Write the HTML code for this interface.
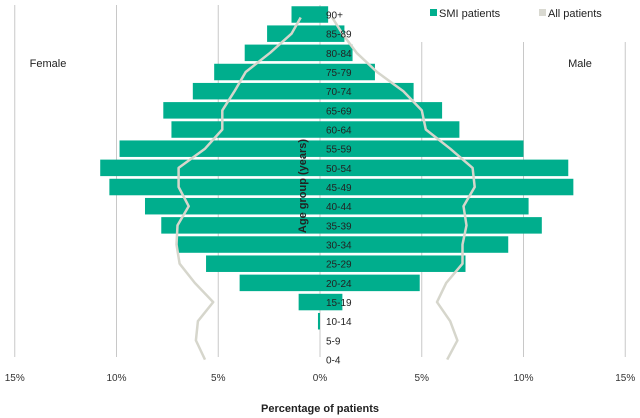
<!DOCTYPE html>
<html><head><meta charset="utf-8"><style>
body{margin:0;background:#fff;}
svg{display:block;font-family:"Liberation Sans",Arial,sans-serif;}
</style></head><body>
<svg id="chart" width="640" height="418">
<g id="grid"></g><g id="bars"></g><g id="lines"></g><g id="labels"></g>
<text x="48" y="67" font-size="11" text-anchor="middle" fill="#222">Female</text>
<text x="580" y="67" font-size="11" text-anchor="middle" fill="#222">Male</text>
<text x="320" y="412" font-size="11" font-weight="bold" text-anchor="middle" fill="#222">Percentage of patients</text>
<text transform="translate(306,186) rotate(-90)" font-size="11" font-weight="bold" text-anchor="middle" fill="#222">Age group (years)</text>
<g>
<rect x="430" y="9" width="7" height="7" fill="#00ae8d"/>
<text x="439" y="17" font-size="11" fill="#222">SMI patients</text>
<rect x="539" y="9" width="7" height="7" fill="#d9d9d1"/>
<text x="548" y="17" font-size="11" fill="#222">All patients</text>
</g>
</svg>
<script>
const categories=["90+","85-89","80-84","75-79","70-74","65-69","60-64","55-59","50-54","45-49","40-44","35-39","30-34","25-29","20-24","15-19","10-14","5-9","0-4"];
const smiFemale=[1.4,2.6,3.7,5.2,6.25,7.7,7.3,9.85,10.8,10.35,8.6,7.8,7.0,5.6,3.95,1.05,0.1,0,0];
const smiMale=[0.4,1.2,1.6,2.7,4.6,6.0,6.85,10.0,12.2,12.45,10.25,10.9,9.25,7.15,4.9,1.1,0,0,0];
const allFemale=[0.95,1.4,2.45,3.65,4.2,4.8,4.8,5.65,6.95,6.95,6.45,7.0,7.05,6.9,6.15,5.25,6.0,6.1,5.65];
const allMale=[0.6,1.1,1.8,2.8,4.1,5.0,5.2,6.4,7.5,7.6,7.05,7.2,7.0,7.0,6.2,5.75,6.4,6.75,6.25];
const xTicks=[-15,-10,-5,0,5,10,15];
const xTickLabels=["15%","10%","5%","0%","5%","10%","15%"];
const NS="http://www.w3.org/2000/svg";
const x0=320,pxPer=20.35,yTop=14.5,step=19.17,barH=16.5;
function xs(v){return x0+v*pxPer;}
function ys(i){return yTop+i*step;}
function mk(tag,attrs,parent){const e=document.createElementNS(NS,tag);for(const k in attrs)e.setAttribute(k,attrs[k]);document.getElementById(parent).appendChild(e);return e;}
xTicks.forEach((t,i)=>{
 const top=(t>0)?42:5;
 const g=mk('line',{x1:xs(t),x2:xs(t),y1:top,y2:357,stroke:'#c8c8c8','stroke-width':1},'grid');
 
 
 const tl=mk('text',{x:xs(t),y:381,'font-size':10,'text-anchor':'middle',fill:'#333'},'labels');
 tl.textContent=xTickLabels[i];
 
 
});
categories.forEach((c,i)=>{
 const yc=ys(i);
 if(smiFemale[i]>0){const r=mk('rect',{x:xs(-smiFemale[i]),y:yc-barH/2,width:smiFemale[i]*pxPer,height:barH,fill:'#00ae8d'},'bars');
 
 }
 if(smiMale[i]>0){const r=mk('rect',{x:x0,y:yc-barH/2,width:smiMale[i]*pxPer,height:barH,fill:'#00ae8d'},'bars');
 
 }
 const t=mk('text',{x:326,y:yc+4,'font-size':10,fill:'#222'},'labels');
 t.textContent=c;
 
 
});
const axl=mk('line',{x1:x0,x2:x0,y1:5,y2:357,stroke:'#c8c8c8','stroke-width':1},'grid');


function path(arr,sign){return arr.map((v,i)=>(i?'L':'M')+xs(sign*v).toFixed(1)+','+(ys(i)+(i==0?3:0)).toFixed(1)).join(' ');}
const lf=mk('path',{d:path(allFemale,-1),fill:'none',stroke:'#d6d6cc','stroke-width':2.5,'stroke-linejoin':'round'},'lines');


const lm=mk('path',{d:path(allMale,1),fill:'none',stroke:'#d6d6cc','stroke-width':2.5,'stroke-linejoin':'round'},'lines');


</script>
</body></html>
